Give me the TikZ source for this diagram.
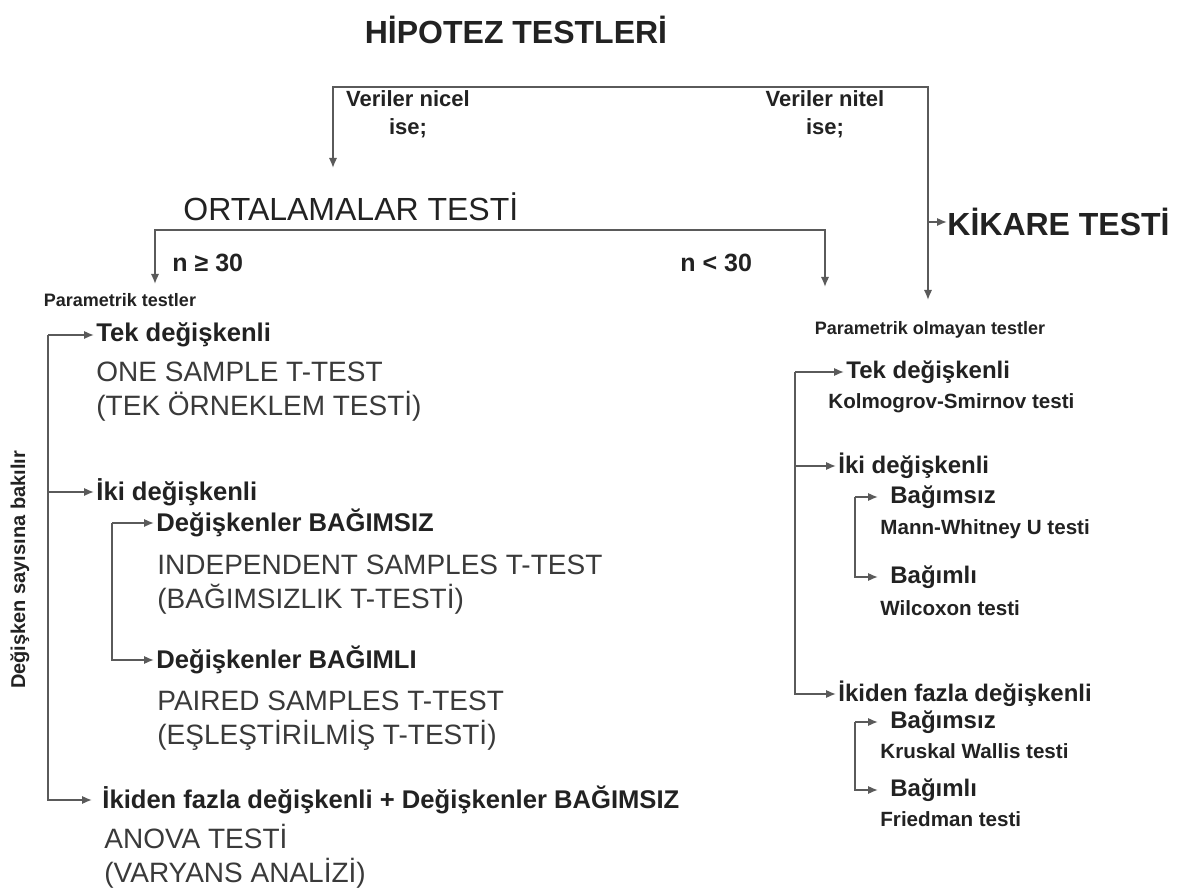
\documentclass[tikz,border=0pt]{standalone}
\usepackage{fontspec}
\setmainfont{Liberation Sans}
\usetikzlibrary{arrows.meta}
\definecolor{linegray}{HTML}{5A5A5A}
\definecolor{inkgray}{HTML}{222222}
\definecolor{softgray}{HTML}{3A3A3A}

\begin{document}
\begin{tikzpicture}[x=0.5pt,y=-0.5pt,
    >={Latex[length=5pt,width=4.2pt]},
    conn/.style={draw=linegray,line width=0.9pt},
    titletext/.style={font=\bfseries\fontsize{16}{19}\selectfont,text=inkgray,inner sep=0pt},
    bigtxt/.style={font=\fontsize{14}{17}\selectfont,text=softgray,align=left,anchor=west,inner sep=0pt},
    boldlbl/.style={font=\bfseries\fontsize{12.8}{14}\selectfont,text=inkgray,anchor=west,inner sep=1pt},
    smalllbl/.style={font=\bfseries\fontsize{11}{14}\selectfont,text=inkgray,align=center,inner sep=0pt},
    rightlbl/.style={font=\bfseries\fontsize{12}{14}\selectfont,text=inkgray,anchor=west,inner sep=1pt},
    testname/.style={font=\bfseries\fontsize{10.3}{12}\selectfont,text=inkgray,anchor=west,inner sep=0pt}]
\useasboundingbox[fill=white] (0,0) rectangle (1191,893);

% top of the tree
\node[titletext] (title) at (516,30) {HİPOTEZ TESTLERİ};
\coordinate (topL) at (333,87);
\coordinate (topR) at (928,87);
\coordinate (nicelTip) at (333,168);
\coordinate (nitelTip) at (928,300);
\node[smalllbl] (nicel) at (408,114) {Veriler nicel\\ise;};
\node[smalllbl] (nitel) at (825,114) {Veriler nitel\\ise;};
\draw[conn,->] (topR) -- (topL) -- (nicelTip);
\draw[conn,->] (topL) -- (topR) -- (nitelTip);
\node[titletext,anchor=west] (kikare) at (947,222) {KİKARE TESTİ};
\draw[conn,->] (kikare.west -| topR) -- (kikare.west);

% ortalamalar
\node[titletext,font=\fontsize{16}{19}\selectfont,anchor=west] (orta) at (183,207) {ORTALAMALAR TESTİ};
\coordinate (ortL) at (155,230);
\coordinate (ortR) at (825,230);
\coordinate (paramTip) at (155,284);
\coordinate (nonparTip) at (825,287);
\draw[conn,->] (ortR) -- (ortL) -- (paramTip);
\draw[conn,->] (ortL) -- (ortR) -- (nonparTip);
\node[smalllbl,font=\bfseries\fontsize{12.5}{14}\selectfont,anchor=west] (buyukN) at (172,263) {n ≥ 30};
\node[smalllbl,font=\bfseries\fontsize{12.5}{14}\selectfont,anchor=west] (kucukN) at (680,263) {n < 30};
\node[smalllbl,font=\bfseries\fontsize{9}{12}\selectfont] (param) at (120,300) {Parametrik testler};
\node[smalllbl,font=\bfseries\fontsize{9}{12}\selectfont] (nonpar) at (930,330) {Parametrik olmayan testler};

% parametrik dal
\coordinate (trunkL) at (48,335);
\node[boldlbl] (tekL) at (94,335) {Tek değişkenli};
\node[bigtxt] (oneS) at (96,392) {ONE SAMPLE T-TEST\\(TEK ÖRNEKLEM TESTİ)};
\node[boldlbl] (ikiL) at (94,492) {İki değişkenli};
\coordinate (innerL) at (112,523);
\node[boldlbl] (bagsizL) at (154,523) {Değişkenler BAĞIMSIZ};
\node[bigtxt] (indep) at (157,585) {INDEPENDENT SAMPLES T-TEST\\(BAĞIMSIZLIK T-TESTİ)};
\node[boldlbl] (bagliL) at (154,660) {Değişkenler BAĞIMLI};
\node[bigtxt] (paired) at (157,721) {PAIRED SAMPLES T-TEST\\(EŞLEŞTİRİLMİŞ T-TESTİ)};
\node[boldlbl] (fazlaL) at (100,800) {İkiden fazla değişkenli + Değişkenler BAĞIMSIZ};
\node[bigtxt] (anova) at (104,856) {ANOVA TESTİ\\(VARYANS ANALİZİ)};
\node[smalllbl,font=\bfseries\fontsize{10}{12}\selectfont,rotate=90] (sayi) at (20,570) {Değişken sayısına bakılır};

\draw[conn,->] (trunkL) -- (tekL.west);
\draw[conn,->] (ikiL.west -| trunkL) -- (ikiL.west);
\draw[conn,->] (trunkL) -- (fazlaL.west -| trunkL) -- ([xshift=-4pt]fazlaL.west);
\draw[conn,->] (innerL) -- (bagsizL.west);
\draw[conn,->] (innerL) -- (bagliL.west -| innerL) -- (bagliL.west);

% parametrik olmayan dal
\coordinate (trunkR) at (795,372);
\node[rightlbl] (tekR) at (844,372) {Tek değişkenli};
\node[testname] (kolmo) at (828,403) {Kolmogrov-Smirnov testi};
\node[rightlbl] (ikiR) at (836,466) {İki değişkenli};
\coordinate (innerR1) at (855,497);
\node[rightlbl] (bagsizR1) at (888,497) {Bağımsız};
\node[testname] (mann) at (880,529) {Mann-Whitney U testi};
\node[rightlbl] (bagliR1) at (888,577) {Bağımlı};
\node[testname] (wilc) at (880,608) {Wilcoxon testi};
\node[rightlbl] (fazlaR) at (836,694) {İkiden fazla değişkenli};
\coordinate (innerR2) at (855,722);
\node[rightlbl] (bagsizR2) at (888,722) {Bağımsız};
\node[testname] (krus) at (880,751) {Kruskal Wallis testi};
\node[rightlbl] (bagliR2) at (888,790) {Bağımlı};
\node[testname] (fried) at (880,819) {Friedman testi};

\draw[conn,->] (trunkR) -- (tekR.west);
\draw[conn,->] (ikiR.west -| trunkR) -- (ikiR.west);
\draw[conn,->] (trunkR) -- (fazlaR.west -| trunkR) -- (fazlaR.west);
\draw[conn,->] (innerR1) -- ([xshift=-5pt]bagsizR1.west);
\draw[conn,->] (innerR1) -- (bagliR1.west -| innerR1) -- ([xshift=-5pt]bagliR1.west);
\draw[conn,->] (innerR2) -- ([xshift=-5pt]bagsizR2.west);
\draw[conn,->] (innerR2) -- (bagliR2.west -| innerR2) -- ([xshift=-5pt]bagliR2.west);
\end{tikzpicture}
\end{document}
